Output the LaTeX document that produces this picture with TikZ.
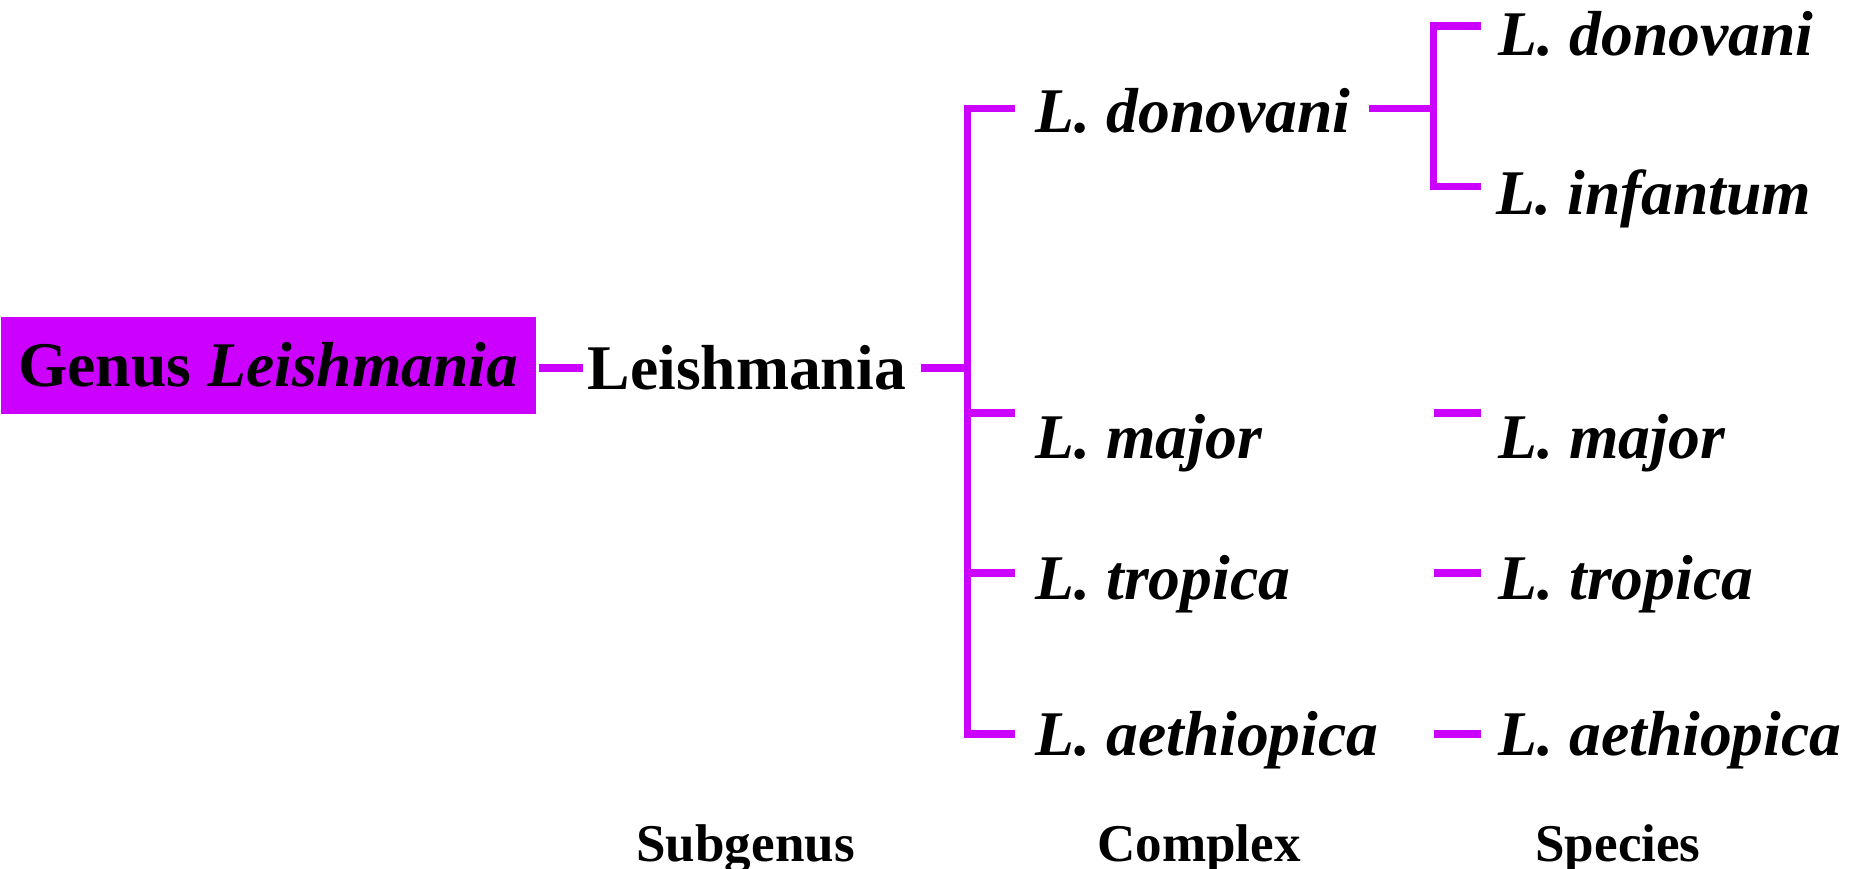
\documentclass[tikz,border=0pt]{standalone}
\usepackage{fontspec}
\setmainfont{Liberation Serif}
\definecolor{leishpink}{RGB}{204,0,255}
\begin{document}
\begin{tikzpicture}[
  lab/.style={font=\fontsize{18.1}{20}\selectfont\bfseries\itshape, inner sep=0pt, anchor=base west},
  foot/.style={font=\fontsize{15.1}{17}\selectfont\bfseries, inner sep=0pt, anchor=base},
  link/.style={draw=leishpink, line width=2pt}]
\useasboundingbox (0,0) rectangle (18.5,-8.69);
% genus and subgenus
\node[fill=leishpink, minimum width=5.35cm, minimum height=0.97cm, inner sep=0pt, anchor=north west,
  font=\fontsize{18.1}{20}\selectfont\bfseries] (genus) at (0,-3.16) {Genus \textit{Leishmania}};
\node[inner sep=0pt, anchor=west, font=\fontsize{18.1}{20}\selectfont\bfseries] (sub) at (5.87,-3.68) {Leishmania};
\draw[link] ([xshift=0.03cm]genus.east |- sub.west) -- ([xshift=-0.04cm]sub.west);
% complex column
\coordinate (cx) at (9.675,-3.68);
\foreach \n/\y in {don/-1.085, maj/-4.13, tro/-5.73, aet/-7.34}
  \coordinate (t\n) at (10.15,\y);
\draw[link] ([xshift=0.14cm]sub.east |- cx) -- (cx);
\draw[link] (tdon) -| (cx |- taet) -- (taet);
\draw[link] (cx |- tmaj) -- (tmaj);
\draw[link] (cx |- ttro) -- (ttro);
\node[lab] (cdon) at (10.35,-1.33) {L. donovani};
\node[lab] (cmaj) at (10.35,-4.58) {L. major};
\node[lab] (ctro) at (10.35,-5.99) {L. tropica};
\node[lab] (caet) at (10.35,-7.55) {L. aethiopica};
% species column
\coordinate (sx) at (14.335,-1.085);
\foreach \n/\y in {don/-0.26, inf/-1.864, maj/-4.13, tro/-5.73, aet/-7.34}
  \coordinate (u\n) at (14.81,\y);
\draw[link] ([xshift=0.18cm]cdon.east |- tdon) -- (sx);
\draw[link] (udon) -| (sx |- uinf) -- (uinf);
\draw[link] (sx |- umaj) -- (umaj);
\draw[link] (sx |- utro) -- (utro);
\draw[link] (sx |- uaet) -- (uaet);
\node[lab] (sdon) at (14.98,-0.555) {L. donovani};
\node[lab] (sinf) at (14.96,-2.147) {L. infantum};
\node[lab] (smaj) at (14.98,-4.58) {L. major};
\node[lab] (stro) at (14.98,-5.99) {L. tropica};
\node[lab] (saet) at (14.98,-7.55) {L. aethiopica};
% column titles
\node[foot] (fsub) at (7.456,-8.61) {Subgenus};
\node[foot] (fcom) at (11.99,-8.61) {Complex};
\node[foot] (fspe) at (16.18,-8.61) {Species};
\end{tikzpicture}
\end{document}
